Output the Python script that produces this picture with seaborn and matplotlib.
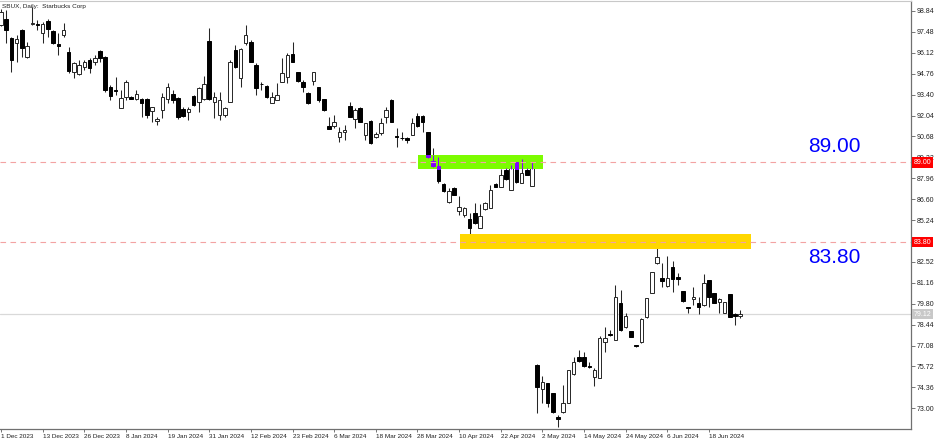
import matplotlib
matplotlib.use("Agg")
import matplotlib.pyplot as plt
import numpy as np
import seaborn as sns
from matplotlib.patches import Rectangle

# Daily OHLC for SBUX, 1 Dec 2023 .. 27 Jun 2024 (one entry per trading day)
opens = [97.95, 98.30, 97.06, 96.74, 97.60, 95.83, 97.97, 98.00, 97.39, 98.19,
         97.56, 96.69, 97.28, 96.15, 94.89, 94.74, 95.22, 95.65, 95.50, 96.26,
         95.87, 93.88, 93.70, 92.51, 93.22, 93.27, 93.14, 93.14, 93.10, 92.34,
         91.69, 92.40, 93.10, 93.42, 93.20, 92.44, 92.29, 93.31, 92.94, 93.10,
         96.89, 92.90, 92.08, 92.08, 92.94, 96.30, 94.46, 96.74, 96.85, 95.33,
         94.12, 93.98, 92.83, 93.05, 94.24, 94.57, 96.02, 94.89, 94.20, 93.53,
         94.28, 93.92, 93.10, 91.36, 91.36, 90.63, 90.99, 92.66, 91.80, 92.51,
         90.78, 91.69, 90.67, 90.93, 91.92, 93.05, 90.70, 90.58, 90.61, 90.78,
         92.01, 92.01, 90.95, 89.08, 88.78, 87.56, 86.39, 87.35, 85.85, 85.57,
         85.29, 85.72, 84.74, 85.96, 86.00, 87.56, 87.41, 88.50, 87.19, 89.04,
         87.67, 88.50, 87.48, 75.82, 74.23, 74.63, 73.97, 72.41, 72.78, 73.32,
         75.21, 76.32, 76.32, 75.75, 75.01, 74.95, 77.29, 77.82, 77.44, 79.83,
         78.27, 78.03, 77.10, 77.34, 78.96, 80.52, 82.43, 81.45, 80.98, 82.21,
         81.52, 80.63, 79.61, 80.11, 79.87, 79.70, 81.34, 80.52, 79.89, 79.22,
         80.43, 79.11, 79.00]
highs = [98.95, 98.90, 97.13, 97.28, 97.65, 96.85, 99.12, 98.25, 98.15, 98.30,
         97.60, 97.39, 98.04, 96.52, 95.54, 95.65, 95.65, 95.76, 95.98, 96.30,
         95.90, 94.03, 94.57, 93.70, 94.35, 93.31, 93.70, 93.16, 93.16, 92.62,
         91.97, 93.49, 94.18, 93.70, 93.27, 92.62, 92.57, 93.38, 93.88, 94.61,
         97.71, 93.59, 93.59, 92.62, 95.65, 96.63, 96.41, 97.93, 96.95, 95.44,
         94.24, 94.03, 93.59, 94.14, 95.76, 96.09, 96.85, 94.89, 94.35, 93.59,
         94.89, 93.92, 93.10, 91.97, 92.08, 91.32, 91.43, 92.94, 92.51, 92.62,
         91.53, 91.75, 90.99, 91.86, 92.57, 93.10, 91.21, 90.95, 90.67, 91.86,
         92.18, 92.05, 90.95, 89.91, 89.32, 87.63, 87.30, 87.37, 86.80, 86.11,
         85.68, 86.33, 86.29, 86.44, 87.52, 87.67, 88.56, 88.61, 88.82, 89.04,
         89.19, 88.61, 89.04, 75.85, 75.10, 74.63, 73.97, 72.56, 74.52, 75.49,
         76.36, 76.79, 76.68, 76.03, 75.60, 77.71, 78.31, 78.09, 81.02, 80.69,
         79.18, 78.03, 77.12, 78.85, 80.15, 81.89, 83.40, 82.43, 82.91, 82.58,
         81.78, 80.63, 79.61, 80.87, 80.26, 81.73, 81.34, 80.52, 80.15, 79.93,
         80.43, 79.22, 79.39]
lows = [97.85, 96.74, 94.89, 95.54, 95.87, 95.76, 97.93, 97.60, 96.78, 97.13,
        96.69, 95.98, 97.17, 94.79, 94.46, 94.68, 95.00, 94.79, 95.33, 95.54,
        93.59, 93.05, 93.38, 92.51, 93.05, 93.10, 93.05, 91.97, 91.86, 91.64,
        91.43, 91.86, 92.83, 92.83, 91.80, 91.97, 91.75, 92.66, 92.29, 93.05,
        93.05, 91.86, 91.75, 91.97, 92.94, 95.11, 93.92, 96.63, 95.54, 93.38,
        93.70, 93.16, 92.83, 93.05, 94.24, 94.14, 95.54, 94.24, 93.59, 92.79,
        94.03, 92.94, 92.35, 91.14, 91.21, 90.34, 90.45, 91.92, 91.21, 91.64,
        90.45, 90.19, 90.56, 90.78, 91.53, 91.64, 90.02, 90.45, 90.23, 90.78,
        91.32, 91.00, 89.30, 88.72, 87.67, 87.09, 86.37, 86.87, 85.57, 85.46,
        84.27, 84.98, 84.70, 85.90, 86.00, 87.37, 87.37, 87.85, 87.19, 87.67,
        87.63, 88.17, 87.45, 72.67, 73.37, 73.11, 72.72, 71.80, 72.72, 73.32,
        75.15, 76.03, 75.71, 75.60, 74.45, 74.95, 76.68, 77.71, 77.44, 78.05,
        78.20, 77.62, 77.01, 77.27, 78.85, 80.48, 82.38, 80.91, 80.91, 80.58,
        81.02, 79.93, 79.18, 79.72, 79.13, 79.65, 79.61, 79.83, 79.18, 79.18,
        78.96, 78.42, 78.85]
closes = [98.80, 97.60, 95.65, 97.00, 96.41, 96.59, 98.06, 97.94, 97.99, 97.67,
          96.74, 96.59, 97.60, 94.94, 95.44, 95.33, 95.54, 95.11, 95.76, 95.76,
          93.70, 93.33, 93.66, 93.16, 94.24, 93.14, 93.42, 92.88, 92.08, 92.57,
          91.82, 93.27, 93.88, 93.05, 91.97, 92.01, 92.44, 92.73, 93.81, 94.07,
          93.12, 93.27, 93.05, 92.51, 95.54, 95.22, 96.35, 97.28, 95.54, 93.81,
          94.07, 93.22, 93.22, 93.38, 94.79, 95.98, 95.54, 94.30, 93.92, 92.83,
          94.85, 93.05, 92.40, 91.14, 91.60, 90.99, 91.10, 91.97, 92.40, 91.64,
          91.53, 90.23, 90.82, 91.53, 92.40, 91.64, 90.67, 90.56, 90.45, 91.53,
          91.36, 91.60, 89.37, 88.78, 87.78, 87.15, 87.15, 86.87, 86.11, 86.00,
          84.70, 85.03, 85.51, 86.33, 87.19, 87.37, 88.17, 87.89, 88.76, 87.69,
          88.28, 88.17, 88.67, 74.41, 74.69, 73.32, 72.78, 72.32, 73.32, 75.49,
          75.99, 76.10, 75.75, 75.66, 75.49, 77.55, 77.55, 77.77, 80.22, 78.09,
          79.00, 77.62, 77.08, 78.79, 80.15, 81.84, 82.82, 81.30, 81.45, 81.41,
          81.43, 79.98, 79.50, 80.26, 79.57, 81.13, 80.22, 79.87, 80.11, 79.93,
          78.96, 79.00, 79.12]

# date labels every 8 trading days
date_labels = ["1 Dec 2023", "13 Dec 2023", "26 Dec 2023", "8 Jan 2024", "19 Jan 2024",
               "31 Jan 2024", "12 Feb 2024", "23 Feb 2024", "6 Mar 2024", "18 Mar 2024",
               "28 Mar 2024", "10 Apr 2024", "22 Apr 2024", "2 May 2024", "14 May 2024",
               "24 May 2024", "6 Jun 2024", "18 Jun 2024"]
price_ticks = [73.00, 74.36, 75.72, 77.08, 78.44, 79.80, 81.16, 82.52, 83.88, 85.24,
               86.60, 87.96, 89.32, 90.68, 92.04, 93.40, 94.76, 96.12, 97.48, 98.84]

levels = [89.00, 83.80]
last_price = 79.12
# rectangles: (first bar, last bar, low price, high price)
green_zone = (80.1, 104.1, 88.56, 89.47)
gold_zone = (88.1, 144.0, 83.36, 84.32)

sns.set_theme(style="white")
plt.rcParams["font.family"] = ["Liberation Sans", "DejaVu Sans"]

fig = plt.figure(figsize=(9.36, 4.4), dpi=100)
ax = fig.add_axes([0, 11 / 440, 911 / 936, 428 / 440])

o = np.array(opens)
h = np.array(highs)
l = np.array(lows)
c = np.array(closes)
idx = np.arange(len(o))
up = c >= o
body_lo = np.minimum(o, c)
body_h = np.maximum(np.abs(c - o), 0.05)
width = 0.68
edge = "#262626"

ax.axhline(last_price, color="#d9d9d9", lw=0.9, zorder=1)

ax.vlines(idx, l, h, color=edge, lw=0.75, zorder=2)
ax.bar(idx[up], body_h[up], bottom=body_lo[up], width=width, color="white",
       edgecolor=edge, linewidth=0.7, zorder=3)
ax.bar(idx[~up], body_h[~up], bottom=body_lo[~up], width=width, color="black",
       edgecolor="black", linewidth=0.7, zorder=3)

# zones
x0, x1, y0, y1 = green_zone
ax.add_patch(Rectangle((x0, y0), x1 - x0, y1 - y0, facecolor="#7CFC00",
                       edgecolor="none", zorder=4))
x0, x1, y0, y1 = gold_zone
ax.add_patch(Rectangle((x0, y0), x1 - x0, y1 - y0, facecolor="#FFD700",
                       edgecolor="none", zorder=4))

# inverted (purple) parts of dark candles inside the green zone
gx0, gx1, gy0, gy1 = green_zone
purple = "#8303FF"
for i in idx:
    if i < gx0 or i > gx1:
        continue
    wl, wh = max(l[i], gy0), min(h[i], gy1)
    if wh > wl:
        ax.vlines(i, wl, wh, color=purple, lw=0.75, zorder=5)
    if not up[i]:
        bl, bh = max(body_lo[i], gy0), min(body_lo[i] + body_h[i], gy1)
        if bh > bl:
            ax.bar(i, bh - bl, bottom=bl, width=width, color=purple,
                   edgecolor=purple, linewidth=0.7, zorder=5)

for lv in levels:
    ax.axhline(lv, color="#f3a3a3", lw=0.8, ls=(0, (5, 4)), zorder=6)

ax.set_xlim(-0.2, 174.8)
ax.set_ylim(71.65, 99.49)

# price scale on the right; the 83.88 label sits under the 83.80 marker
ax.yaxis.tick_right()
ax.set_yticks(price_ticks)
ax.set_yticklabels(["" if abs(v - 83.88) < 0.01 else f"{v:.2f}" for v in price_ticks])
ax.tick_params(axis="y", which="both", right=True, left=False, length=3, width=0.6,
               color="#606060", labelsize=5, pad=1, labelcolor="#202020")

ax.set_xticks(idx[::8][:len(date_labels)])
ax.set_xticklabels(date_labels, ha="left")
ax.tick_params(axis="x", bottom=True, length=2, width=0.6, color="#606060",
               labelsize=4.6, pad=1.5, labelcolor="#202020")

ax.spines["left"].set_visible(False)
for side in ["right", "bottom"]:
    ax.spines[side].set_color("#707070")
    ax.spines[side].set_linewidth(0.9)
ax.spines["top"].set_color("#c8c8c8")
ax.spines["top"].set_linewidth(0.8)

ytrans = ax.get_yaxis_transform()
for lv in levels:
    ax.text(1.003, lv, f"{lv:.2f}", transform=ytrans, ha="left", va="center",
            fontsize=5, color="white", zorder=10, clip_on=False,
            bbox=dict(boxstyle="square,pad=0.25", fc="#ff0000", ec="none"))
ax.text(1.003, last_price, f"{last_price:.2f}", transform=ytrans, ha="left",
        va="center", fontsize=5, color="white", zorder=10, clip_on=False,
        bbox=dict(boxstyle="square,pad=0.25", fc="#c8c8c8", ec="none"))

# big level labels
ax.text(160.1, 90.03, "89.00", ha="center", va="center", fontsize=15, color="#0000ff", zorder=7)
ax.text(160.1, 82.79, "83.80", ha="center", va="center", fontsize=15, color="#0000ff", zorder=7)

ax.text(0.002, 0.992, "SBUX, Daily:  Starbucks Corp", transform=ax.transAxes,
        ha="left", va="top", fontsize=4.6, color="#202020", zorder=10)

fig.savefig("out.png", dpi=100)
